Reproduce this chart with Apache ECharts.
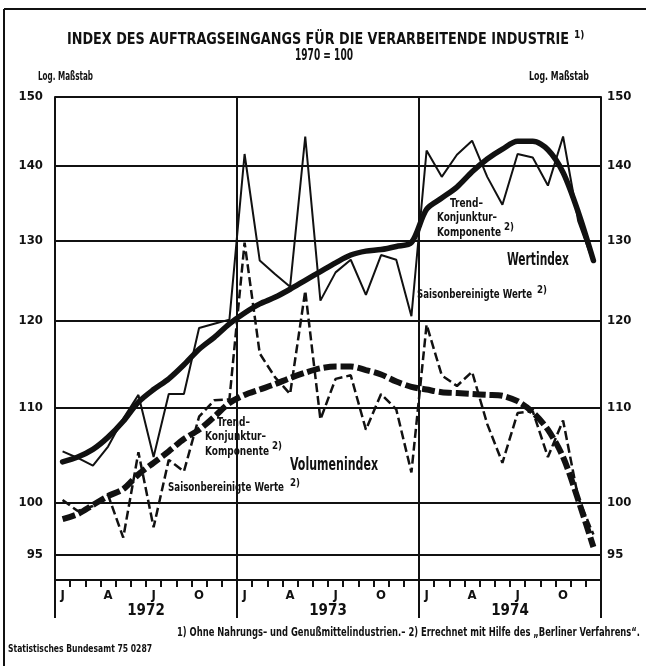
<!DOCTYPE html>
<html>
<head>
<meta charset="utf-8">
<script src="https://cdn.jsdelivr.net/npm/echarts@6/dist/echarts.min.js"></script>
<style>
  html, body { margin: 0; padding: 0; background: #fff; }
  #chart { width: 646px; height: 666px; }
</style>
</head>
<body>
<div id="chart"></div>
<script>
// Monatsachse Jan 1972 - Dez 1974
const monthLabels = [
  'J', '', '', 'A', '', '', 'J', '', '', 'O', '', '',
  'J', '', '', 'A', '', '', 'J', '', '', 'O', '', '',
  'J', '', '', 'A', '', '', 'J', '', '', 'O', '', ''
]
const years = ['1972', '1973', '1974']
const yTicks = [95, 100, 110, 120, 130, 140, 150]

// Wertindex
const wertSaison = [
  105.3, 104.6, 103.8, 105.8, 108.8, 111.4, 104.7, 111.5, 111.5, 119.1, 119.6, 120.1,
  141.7, 127.4, 125.7, 124.1, 144.2, 122.4, 125.9, 127.5, 123.1, 128.1, 127.5, 120.5,
  142.2, 138.5, 141.6, 143.6, 138.5, 134.7, 141.7, 141.2, 137.3, 144.2, 132.5, 127.1
]
const wertTrend = [
  104.2, 104.7, 105.5, 106.8, 108.5, 110.6, 112.0, 113.2, 114.8, 116.6, 118.0, 119.6,
  120.9, 122.0, 122.8, 123.8, 124.9, 126.0, 127.1, 128.1, 128.6, 128.8, 129.2, 129.7,
  134.1, 135.6, 137.1, 139.2, 141.0, 142.4, 143.5, 143.5, 142.3, 139.1, 133.7, 127.4
]

// Volumenindex
const volSaison = [
  100.3, 99.2, 99.7, 100.8, 96.6, 105.2, 97.6, 104.4, 103.2, 109.0, 110.8, 110.9,
  129.7, 116.1, 113.4, 111.5, 123.6, 108.7, 113.2, 113.6, 107.6, 111.5, 109.8, 103.1,
  119.5, 113.6, 112.4, 114.0, 108.2, 104.1, 109.4, 109.6, 104.7, 108.6, 100.5, 96.9
]
const volTrend = [
  98.4, 98.9, 99.8, 100.7, 101.4, 102.9, 104.1, 105.3, 106.6, 107.6, 109.0, 110.5,
  111.4, 112.0, 112.6, 113.3, 113.9, 114.4, 114.6, 114.6, 114.2, 113.7, 112.9, 112.3,
  112.0, 111.7, 111.6, 111.5, 111.4, 111.3, 110.7, 109.5, 107.6, 104.7, 100.3, 95.7
]

const FONT = '"Liberation Sans Narrow", "DejaVu Sans Condensed", "Liberation Sans", sans-serif'
const INK = '#111'

const chart = echarts.init(document.getElementById('chart'), null, { renderer: 'canvas' })

// die Vorlage nutzt eine schmale Schrift: Text horizontal auf Zielbreite stauchen
const measure = document.createElement('canvas').getContext('2d')
const fit = (x, y, text, size, width, align) => {
  const font = 'bold ' + size + 'px ' + FONT
  measure.font = font
  const w = measure.measureText(text).width
  return {
    type: 'text',
    x: x,
    y: y,
    scaleX: Math.min(1, width / w),
    z: 10,
    style: { text: text, x: 0, y: 0, fill: INK, font: font, align: align || 'left', verticalAlign: 'top' }
  }
}

const logAxis = (pos, margin) => ({
  type: 'log',
  position: pos,
  min: 92.6,
  max: 150,
  axisLine: { show: true, lineStyle: { color: INK, width: 2 } },
  axisTick: { show: false, customValues: yTicks },
  minorTick: { show: false },
  axisLabel: {
    customValues: yTicks,
    margin: margin,
    color: INK,
    fontFamily: FONT,
    fontWeight: 'bold',
    fontSize: 13
  },
  splitLine: { show: pos === 'left', lineStyle: { color: INK, width: 2 } }
})

const option = {
  animation: false,
  backgroundColor: '#fff',
  grid: { left: 55, right: 45, top: 97, bottom: 86 },
  xAxis: [
    {
      type: 'category',
      data: monthLabels,
      boundaryGap: true,
      position: 'bottom',
      axisLine: { show: true, lineStyle: { color: INK, width: 2 } },
      axisTick: { show: true, interval: 0, length: 7, lineStyle: { color: INK, width: 2 } },
      axisLabel: { interval: 0, margin: 9, color: INK, fontFamily: FONT, fontWeight: 'bold', fontSize: 13 },
      splitLine: { show: false }
    },
    {
      type: 'category',
      data: years,
      boundaryGap: true,
      position: 'bottom',
      axisLine: { show: false },
      axisTick: { show: true, interval: 0, length: 38, lineStyle: { color: INK, width: 2 } },
      axisLabel: { interval: 0, margin: 24, color: INK, fontFamily: FONT, fontWeight: 'bold', fontSize: 15 },
      splitLine: { show: true, interval: 0, lineStyle: { color: INK, width: 2 } }
    }
  ],
  yAxis: [logAxis('left', 12), logAxis('right', 6)],
  series: [
    {
      name: 'Wertindex saisonbereinigt',
      type: 'line',
      data: wertSaison,
      symbol: 'none',
      lineStyle: { color: INK, width: 2 },
      z: 3
    },
    {
      name: 'Wertindex Trend',
      type: 'line',
      data: wertTrend,
      symbol: 'none',
      smooth: 0.3,
      lineStyle: { color: INK, width: 5.5, cap: 'round' },
      z: 4
    },
    {
      name: 'Volumenindex saisonbereinigt',
      type: 'line',
      data: volSaison,
      symbol: 'none',
      lineStyle: { color: INK, width: 2.5, type: [9, 4] },
      z: 3
    },
    {
      name: 'Volumenindex Trend',
      type: 'line',
      data: volTrend,
      symbol: 'none',
      smooth: 0.3,
      lineStyle: { color: INK, width: 6, type: [13, 4] },
      z: 4
    }
  ],
  graphic: [
    // Rahmen
    { type: 'line', shape: { x1: 4, y1: 9, x2: 646, y2: 9 }, style: { stroke: INK, lineWidth: 2 } },
    { type: 'line', shape: { x1: 4, y1: 9, x2: 4, y2: 666 }, style: { stroke: INK, lineWidth: 2 } },
    // Titel
    fit(67, 32, 'INDEX DES AUFTRAGSEINGANGS FÜR DIE VERARBEITENDE INDUSTRIE', 16, 502),
    fit(574, 30, '1)', 10, 11),
    fit(324, 49, '1970 = 100', 15, 58, 'center'),
    fit(38, 71, 'Log. Maßstab', 12, 55),
    fit(529, 71, 'Log. Maßstab', 12, 60),
    // Wertindex
    fit(450, 197, 'Trend–', 13, 33),
    fit(437, 211, 'Konjunktur–', 13, 60),
    fit(437, 226, 'Komponente', 13, 64),
    fit(504, 222, '2)', 11, 10),
    fit(507, 251, 'Wertindex', 18, 62),
    fit(417, 288, 'Saisonbereinigte Werte', 13, 115),
    fit(537, 285, '2)', 11, 10),
    // Volumenindex
    fit(217, 416, 'Trend–', 13, 33),
    fit(205, 430, 'Konjunktur–', 13, 61),
    fit(205, 445, 'Komponente', 13, 64),
    fit(272, 441, '2)', 11, 10),
    fit(290, 456, 'Volumenindex', 18, 88),
    fit(168, 481, 'Saisonbereinigte Werte', 13, 116),
    fit(290, 478, '2)', 11, 10),
    // Fussnoten
    fit(177, 627, '1) Ohne Nahrungs– und Genußmittelindustrien.– 2) Errechnet mit Hilfe des „Berliner Verfahrens“.', 12, 463),
    fit(8, 644, 'Statistisches Bundesamt 75 0287', 11, 144)
  ]
}

chart.setOption(option)
</script>
</body>
</html>
